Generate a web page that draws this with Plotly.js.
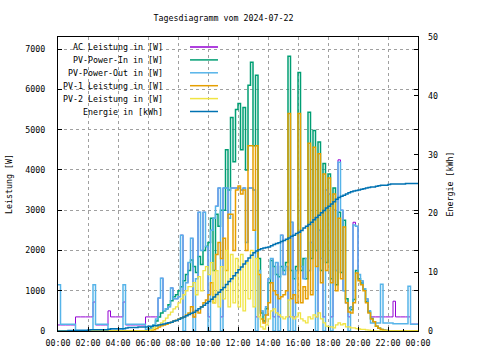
<!DOCTYPE html>
<html><head><meta charset="utf-8">
<script src="https://cdn.plot.ly/plotly-3.0.1.min.js"></script>
<style>html,body{margin:0;padding:0;background:#fff}#chart{width:480px;height:360px}</style>
</head><body><div id="chart"></div>
<script>
const chartTitle = 'Tagesdiagramm vom 2024-07-22';
const seriesNames = ['AC Leistung in [W]','PV-Power-In in [W]','PV-Power-Out in [W]','PV-1 Leistung in [W]','PV-2 Leistung in [W]','Energie in [kWh]'];
const seriesColors = ['#9400d3','#009e73','#56b4e9','#e69f00','#f0e442','#0072b2'];
const xTickLabels = ['00:00','02:00','04:00','06:00','08:00','10:00','12:00','14:00','16:00','18:00','20:00','22:00','00:00'];

// 10-minute samples, 00:00 .. 24:00 (145 values)
const acPower = [
150,150,150,150,150,150, 150,350,350,350,350,350, 350,350,720,150,150,150, 150,150,500,350,350,350,
350,350,720,150,150,150, 150,150,150,150,150,350, 350,350,350,350,820,1310, 500,550,600,1070,800,800,
850,2380,350,1200,1700,2300, 350,1300,2950,2000,2950,2100, 350,2500,2800,3100,3550,350, 3550,3550,2800,3550,3550,3550,
3550,3500,3550,2200,3550,3550, 3500,350,1500,500,400,600, 1300,1800,350,1700,350,2380, 1400,1600,350,2700,350,1500,
2450,1600,1300,1800,1500,2200, 2800,350,2500,1800,350,3500, 3400,350,3000,1500,4250,3000, 1000,700,350,600,2700,2600,
1400,1250,1050,800,500,350, 350,350,350,350,350,350, 350,350,740,350,350,350, 350,350,350,170,170,170, 170];

const pvIn = [
0,0,0,0,0,0, 0,0,0,0,0,0, 0,0,0,0,0,0, 0,0,0,0,0,0,
0,0,0,0,0,0, 0,0,0,0,0,0, 50,100,150,250,350,450, 500,550,650,750,850,900,
1000,1100,1250,1400,1500,1760, 1600,1450,1850,1650,2000,2100, 2200,2800,1500,2900,2600,3000, 3000,4500,3500,5300,4200,5500,
5650,4500,5550,4000,6100,6670, 4600,6350,1800,450,250,550, 1200,1750,1600,1400,1350,1600, 1500,1700,6820,1500,1300,1600,
6420,1500,1800,1300,5430,1800, 4980,2000,4690,1500,4160,1700, 3900,1300,3550,1150,2950,1450, 2750,800,570,530,780,1500,
1300,1190,1040,730,470,310, 230,120,70,40,20,10, 0,0,0,0,0,0, 0,0,0,0,0,0, 0];

const pvOut = [
1150,170,170,170,170,170, 170,20,20,20,20,20, 20,20,1150,170,170,170, 170,170,20,20,20,20,
20,20,1150,170,170,170, 170,170,170,170,170,40, 40,60,150,300,820,1310, 500,550,600,1070,800,800,
850,2380,0,1200,1700,2300, 0,1300,2950,2000,2950,2100, 0,2500,2800,3100,3550,0, 3550,3550,2800,3550,3550,3550,
3550,3500,3550,2200,3550,3550, 3500,0,1500,500,400,600, 1300,1800,0,1700,0,2380, 1400,1600,0,2700,0,1500,
2450,1600,1300,1800,1500,2200, 2800,0,2500,1800,0,3500, 3400,0,3000,1500,4190,3000, 1000,700,0,600,2630,2600,
1400,1250,1050,800,500,200, 200,200,200,1160,200,200, 200,200,180,180,180,180, 180,180,1110,170,170,170, 170];

const pv1 = [
0,0,0,0,0,0, 0,0,0,0,0,0, 0,0,0,0,0,0, 0,0,0,0,0,0,
0,0,0,0,0,0, 0,0,0,0,0,0, 0,10,30,60,100,130, 150,170,200,220,250,270,
300,330,350,400,450,600, 350,500,450,600,700,770, 900,1200,700,1900,2200,1800, 2300,1500,2900,2900,2000,3500,
3600,3400,3500,2000,4600,4600, 2500,4600,1400,300,200,400, 700,1200,1000,900,800,850, 900,1000,5400,800,900,700,
5400,700,1100,800,4660,900, 4560,1600,4400,1200,3900,1500, 3800,1200,3400,1000,2800,1300, 2580,700,470,450,700,1440,
1250,1150,1000,700,450,300, 230,120,70,40,20,10, 0,0,0,0,0,0, 0,0,0,0,0,0, 0];

const pv2 = [
0,0,0,0,0,0, 0,0,0,0,0,0, 0,0,0,0,0,0, 0,0,0,0,0,0,
0,0,0,0,0,0, 0,0,0,0,0,0, 0,30,80,120,160,200, 250,320,400,470,550,600,
700,800,900,1000,1100,1100, 1200,900,1350,1000,1500,1600, 1400,1700,700,1500,600,1600, 800,2000,600,1900,700,1800,
600,1900,500,1700,800,2000, 600,1800,350,100,50,150, 300,500,550,450,400,350, 300,350,770,350,300,350,
450,300,250,200,350,300, 400,350,450,300,200,120, 100,100,80,150,200,150, 180,100,100,80,80,60,
50,40,40,30,20,10, 0,0,0,0,0,0, 0,0,0,0,0,0, 0,0,0,0,0,0, 0];

const energy = [
0,0,0,0,0.1,0.1, 0.1,0.1,0.1,0.1,0.1,0.1, 0.15,0.2,0.2,0.2,0.2,0.2, 0.2,0.2,0.3,0.4,0.4,0.4,
0.4,0.4,0.4,0.5,0.6,0.6, 0.6,0.6,0.7,0.7,0.7,0.7, 0.8,0.8,0.9,0.9,1.0,1.1, 1.2,1.3,1.4,1.5,1.7,1.8,
2.0,2.2,2.4,2.6,2.8,3.0, 3.2,3.5,3.8,4.1,4.4,4.7, 5.0,5.4,5.8,6.2,6.6,7.0, 7.4,7.9,8.4,8.9,9.4,9.9,
10.4,10.9,11.4,11.9,12.4,12.9, 13.3,13.6,13.8,14.0,14.1,14.2, 14.3,14.5,14.7,14.9,15.0,15.2, 15.4,15.6,15.8,16.1,16.3,16.6,
16.8,17.1,17.5,17.8,18.1,18.5, 18.9,19.3,19.7,20.1,20.5,20.9, 21.2,21.6,22.0,22.4,22.7,22.9, 23.1,23.3,23.5,23.7,23.8,23.9,
24.0,24.1,24.2,24.3,24.4,24.5, 24.5,24.6,24.7,24.8,24.8,24.8, 24.9,25.0,25.0,25.0,25.0,25.0, 25.0,25.1,25.1,25.1,25.1,25.1, 25.1];

function stamp(i){
  const m = i*10, day = m >= 1440 ? '2024-07-23' : '2024-07-22', mm = m % 1440;
  return day + ' ' + String(Math.floor(mm/60)).padStart(2,'0') + ':' + String(mm%60).padStart(2,'0');
}
const times = energy.map((_, i) => stamp(i));

const FONT = {family: 'DejaVu Sans Mono, monospace', size: 8.3, color: '#000'};
const powerSeries = [acPower, pvIn, pvOut, pv1, pv2];
const widths = [1, 1.5, 1.5, 1.5, 1.3];
const traces = powerSeries.map((vals, k) => ({
  x: times, y: vals, type: 'scatter', mode: 'lines', name: seriesNames[k],
  line: {color: seriesColors[k], width: widths[k], shape: 'hv'}, yaxis: 'y'
}));
traces.push({x: times, y: energy, type: 'scatter', mode: 'lines', name: seriesNames[5],
  line: {color: seriesColors[5], width: 1.5, shape: 'hv'}, yaxis: 'y2'});

const plotTop = 37, plotBottom = 331, plotH = plotBottom - plotTop;
const annotations = [], shapes = [];
seriesNames.forEach((n, k) => {
  const yp = (plotBottom - (47 + 12.9*k)) / plotH;
  annotations.push({xref:'paper', yref:'paper', x: 0.297, y: yp, xanchor:'right', yanchor:'middle',
    text: n, showarrow:false, font: FONT});
  shapes.push({type:'line', xref:'paper', yref:'paper', x0: 0.3667, x1: 0.4444, y0: yp, y1: yp,
    line: {color: seriesColors[k], width: 1.5}});
});

const layout = {
  width: 480, height: 360,
  margin: {l: 58, r: 62, t: 37, b: 29},
  paper_bgcolor: '#fff', plot_bgcolor: '#fff',
  font: FONT,
  showlegend: false,
  title: {text: chartTitle, font: FONT, x: 223.5/480, xref: 'container', xanchor: 'center', y: 1 - 18/360, yanchor: 'middle'},
  xaxis: {
    type: 'date', range: [times[0], times[times.length-1]],
    tickvals: xTickLabels.map((_, j) => stamp(j*12)), ticktext: xTickLabels,
    ticks: 'inside', ticklen: 4, tickcolor: '#000',
    minor: {dtick: 3600000, ticks: 'inside', ticklen: 2, tickcolor: '#000', showgrid: false},
    showline: true, linecolor: '#000', linewidth: 1, mirror: true,
    showgrid: true, gridcolor: '#a0a0a0', griddash: '3px,3px', gridwidth: 1,
    zeroline: false, ticklabelstandoff: 4, tickfont: FONT
  },
  yaxis: {
    range: [0, 7300], tick0: 0, dtick: 1000,
    ticks: 'inside', ticklen: 4, tickcolor: '#000',
    showline: true, linecolor: '#000', linewidth: 1, mirror: 'ticks',
    showgrid: true, gridcolor: '#a0a0a0', griddash: '3px,3px', gridwidth: 1,
    zeroline: false, ticklabelstandoff: 10, tickfont: FONT,
    title: {text: 'Leistung [W]', font: FONT, standoff: 11}
  },
  yaxis2: {
    range: [0, 50], tick0: 0, dtick: 10, overlaying: 'y', side: 'right',
    ticks: 'inside', ticklen: 4, tickcolor: '#000',
    showline: false, showgrid: false, zeroline: false, ticklabelstandoff: 9, tickfont: FONT,
    title: {text: 'Energie [kWh]', font: FONT, standoff: 10}
  },
  annotations: annotations,
  shapes: shapes
};
Plotly.newPlot('chart', traces, layout, {staticPlot: true, displayModeBar: false});
</script>
</body></html>
